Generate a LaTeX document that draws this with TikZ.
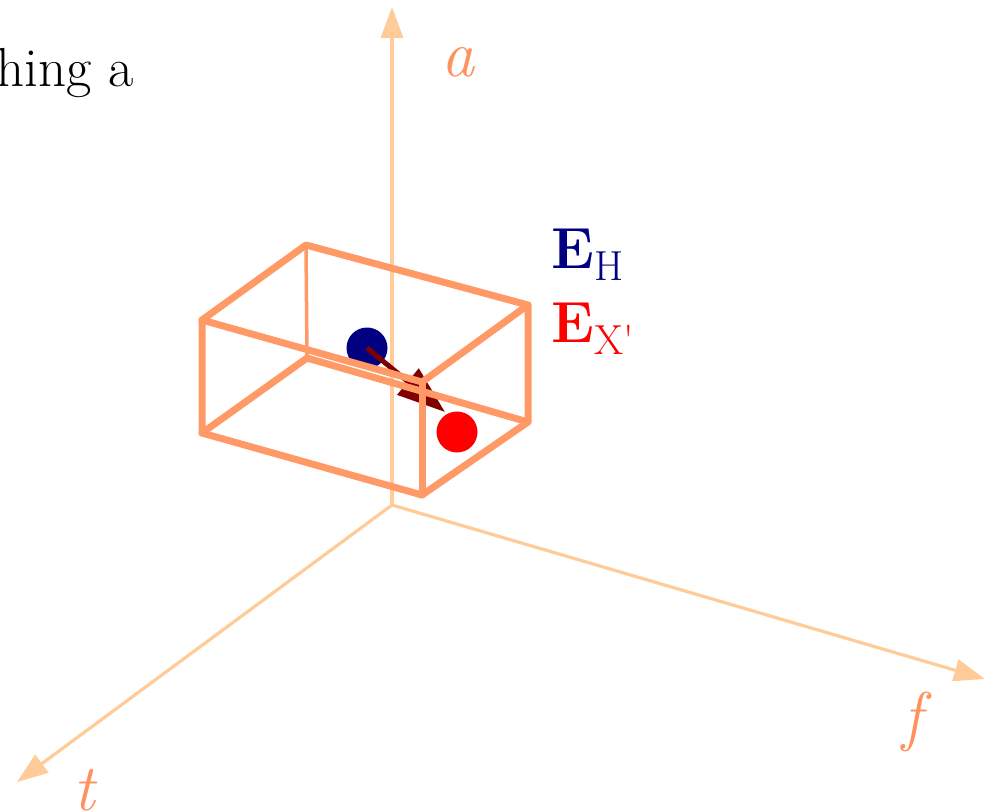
\documentclass[tikz,border=0pt]{standalone}
\usetikzlibrary{arrows.meta}
\definecolor{axiscol}{RGB}{255,204,153}
\definecolor{labcol}{RGB}{255,145,95}
\definecolor{boxcol}{RGB}{255,153,102}
\definecolor{navyc}{RGB}{0,0,128}
\definecolor{maroonc}{RGB}{128,0,0}
\newcommand{\biglab}[1]{{\fontsize{66}{72}\selectfont\itshape #1}}
\newcommand{\elab}[2]{{\fontsize{58}{64}\selectfont\bfseries E}\raisebox{-12pt}{\fontsize{42}{46}\selectfont #2}}
\begin{document}
\begin{tikzpicture}[x=1pt,y=-1pt,
  axisline/.style={draw=axiscol,line width=3.2pt,-{Triangle[length=31pt,width=22pt]}},
  axislabel/.style={text=labcol,inner sep=0pt},
  boxedge/.style={draw=boxcol,line width=7pt,line join=round,line cap=round},
  backedge/.style={draw=boxcol,line width=3.5pt},
  ball/.style={circle,inner sep=0pt,minimum size=41pt},
  elabel/.style={inner sep=0pt,anchor=base west}]
\useasboundingbox (0,0) rectangle (984,811);
% caption fragment
\node[anchor=base east,inner sep=0pt] (cap) at (134,86) {\fontsize{55}{64}\selectfont hing a};
% axes
\coordinate (O) at (392,505);
\coordinate (atip) at (392,7);
\coordinate (ttip) at (17,782);
\coordinate (ftip) at (985,679);
\draw[axisline] (O) -- (atip);
\draw[axisline] (O) -- (ttip);
\draw[axisline] (O) -- (ftip);
\node[axislabel] (alab) at (458,62) {\biglab{a}};
\node[axislabel] (tlab) at (84,790) {\biglab{t}};
\node[axislabel] (flab) at (912,722) {\biglab{f}};
% balls and arrow
\node[ball,fill=navyc] (eh) at (367,348) {};
\node[ball,fill=red] (ex) at (457,432) {};
\coordinate (arrtip) at (445,412);
\draw[draw=maroonc,fill=maroonc,line width=5pt,-{Triangle[length=48pt,width=33pt]}] (eh.center) -- (arrtip);
% box
\coordinate (A) at (202,320);
\coordinate (B) at (306,245);
\coordinate (C) at (528,305);
\coordinate (D) at (422,382);
\coordinate (E) at (202,433);
\coordinate (F) at (307,358);
\coordinate (G) at (528,422);
\coordinate (H) at (422,495);
\draw[backedge] (B) -- (F);
\draw[boxedge] (E) -- (F) -- (G);
\draw[boxedge] (A) -- (B) -- (C) -- (D) -- cycle;
\draw[boxedge] (A) -- (E) -- (H) -- (G) -- (C);
\draw[boxedge] (D) -- (H);
% labels
\node[elabel,text=navyc] (ehlab) at (551,268) {\elab{E}{H}};
\node[elabel,text=red] (exlab) at (551,342) {\elab{E}{X\textquotesingle}};
\end{tikzpicture}
\end{document}
